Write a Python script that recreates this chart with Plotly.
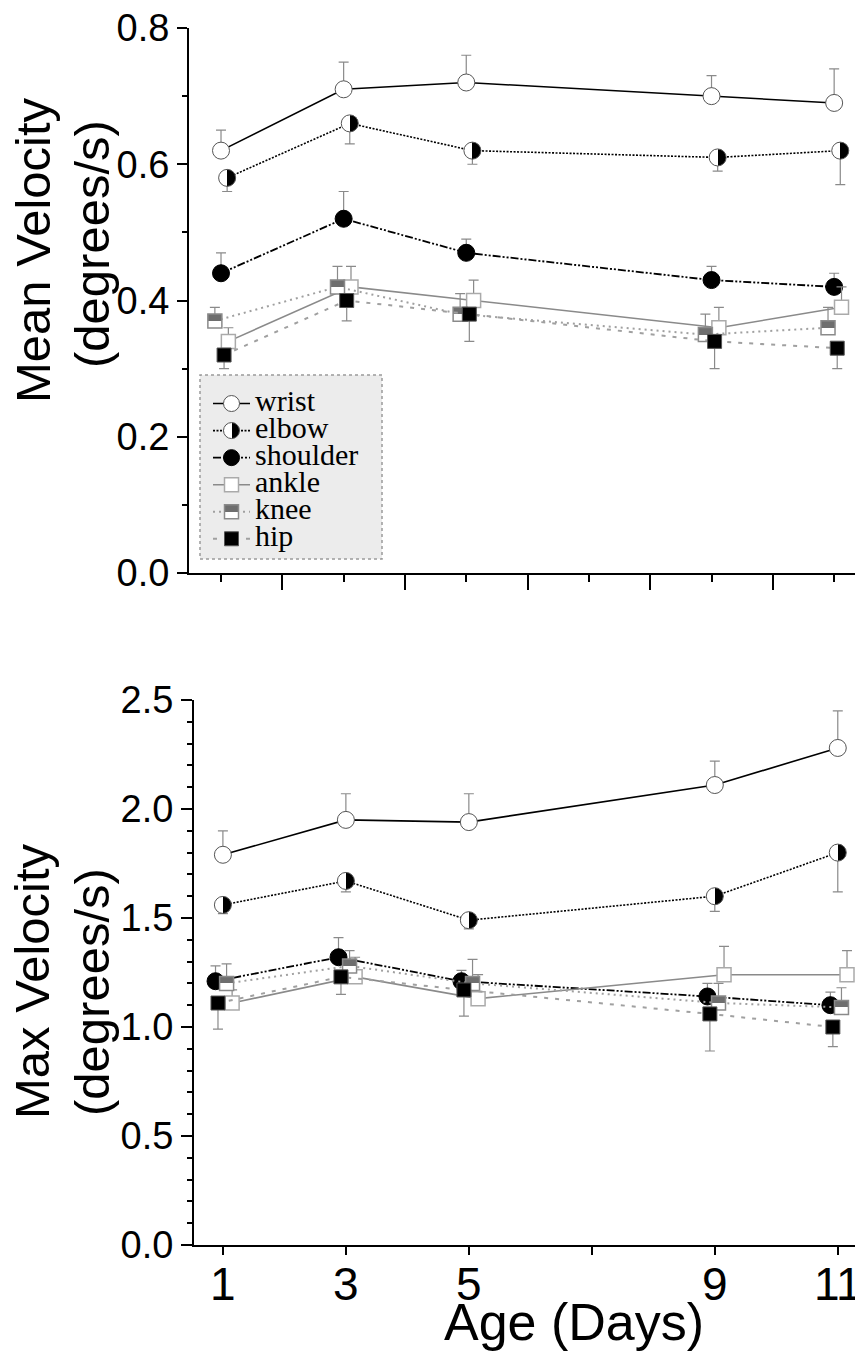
import plotly.graph_objects as go

# ---------------- data ----------------
days = [1, 3, 5, 9, 11]
joints = ["wrist", "elbow", "shoulder", "ankle", "knee", "hip"]

# Mean velocity (degrees/s) - top panel
mean_wrist = [0.62, 0.71, 0.72, 0.70, 0.69]
mean_elbow = [0.58, 0.66, 0.62, 0.61, 0.62]
mean_shoulder = [0.44, 0.52, 0.47, 0.43, 0.42]
mean_ankle = [0.34, 0.42, 0.40, 0.36, 0.39]
mean_knee = [0.37, 0.42, 0.38, 0.35, 0.36]
mean_hip = [0.32, 0.40, 0.38, 0.34, 0.33]

mean_wrist_err = [0.03, 0.04, 0.04, 0.03, 0.05]
mean_elbow_err = [0.02, 0.03, 0.02, 0.02, 0.05]
mean_shoulder_err = [0.03, 0.04, 0.02, 0.02, 0.02]
mean_ankle_err = [0.02, 0.03, 0.03, 0.03, 0.03]
mean_knee_err = [0.02, 0.03, 0.03, 0.03, 0.03]
mean_hip_err = [0.02, 0.03, 0.04, 0.04, 0.03]

# Max velocity (degrees/s) - bottom panel
max_wrist = [1.79, 1.95, 1.94, 2.11, 2.28]
max_elbow = [1.56, 1.67, 1.49, 1.60, 1.80]
max_shoulder = [1.21, 1.32, 1.21, 1.14, 1.10]
max_ankle = [1.11, 1.23, 1.13, 1.24, 1.24]
max_knee = [1.20, 1.28, 1.20, 1.11, 1.09]
max_hip = [1.11, 1.23, 1.17, 1.06, 1.00]

max_wrist_err = [0.11, 0.12, 0.13, 0.11, 0.17]
max_elbow_err = [0.04, 0.05, 0.04, 0.07, 0.18]
max_shoulder_err = [0.07, 0.09, 0.05, 0.06, 0.06]
max_ankle_err = [0.06, 0.09, 0.11, 0.13, 0.11]
max_knee_err = [0.09, 0.07, 0.11, 0.09, 0.09]
max_hip_err = [0.12, 0.08, 0.12, 0.17, 0.09]

x_tick_vals = [1, 3, 5, 7, 9, 11]
x_tick_text = ["1", "3", "5", "", "9", "11"]

mean_data = {
    "wrist": (mean_wrist, mean_wrist_err),
    "elbow": (mean_elbow, mean_elbow_err),
    "shoulder": (mean_shoulder, mean_shoulder_err),
    "ankle": (mean_ankle, mean_ankle_err),
    "knee": (mean_knee, mean_knee_err),
    "hip": (mean_hip, mean_hip_err),
}
max_data = {
    "wrist": (max_wrist, max_wrist_err),
    "elbow": (max_elbow, max_elbow_err),
    "shoulder": (max_shoulder, max_shoulder_err),
    "ankle": (max_ankle, max_ankle_err),
    "knee": (max_knee, max_knee_err),
    "hip": (max_hip, max_hip_err),
}

# ---------------- styles ----------------
W, H = 855, 1355
FONT = "Liberation Sans, Arial, sans-serif"
ERRC = "#8a8a8a"

styles = {
    "wrist": dict(
        line=dict(color="black", width=1.6, dash="solid"),
        marker=dict(symbol="circle", size=17, color="white",
                    line=dict(color="#555555", width=1)),
        up=True, dx_top=0.0, dx_bot=0.0),
    "elbow": dict(
        line=dict(color="black", width=1.6, dash="2px,1.5px"),
        marker=dict(symbol="circle", size=17, color="white",
                    gradient=dict(type="horizontal", color="black"),
                    line=dict(color="#555555", width=1)),
        up=False, dx_top=0.1, dx_bot=0.0),
    "shoulder": dict(
        line=dict(color="black", width=1.8, dash="8px,2px,2px,2px,2px,2px"),
        marker=dict(symbol="circle", size=17, color="black",
                    line=dict(color="black", width=1)),
        up=True, dx_top=0.0, dx_bot=-0.12),
    "ankle": dict(
        line=dict(color="#8a8a8a", width=1.6, dash="solid"),
        marker=dict(symbol="square", size=14, color="white",
                    line=dict(color="#aaaaaa", width=1.5)),
        up=True, dx_top=0.12, dx_bot=0.15),
    "knee": dict(
        line=dict(color="#a0a0a0", width=2, dash="2px,4px"),
        marker=dict(symbol="square", size=14, color="#6e6e6e",
                    gradient=dict(type="vertical", color="white"),
                    line=dict(color="#8a8a8a", width=1.5)),
        up=True, dx_top=-0.1, dx_bot=0.06),
    "hip": dict(
        line=dict(color="#a0a0a0", width=2, dash="4px,7px"),
        marker=dict(symbol="square", size=14, color="black",
                    line=dict(color="#555555", width=1)),
        up=False, dx_top=0.05, dx_bot=-0.08),
}

fig = go.Figure()


def add_series(data, xa, ya, dxkey, showlegend):
    for i, j in enumerate(joints):
        vals, err = data[j]
        st = styles[j]
        zeros = [0] * len(err)
        fig.add_trace(go.Scatter(
            x=[d + st[dxkey] for d in days], y=vals,
            mode="lines+markers",
            name=f'<span style="font-size:30px">{j}</span>',
            legendgroup=j, showlegend=showlegend, legendrank=i + 1,
            line=st["line"], marker=st["marker"],
            error_y=dict(type="data", symmetric=False,
                         array=err if st["up"] else zeros,
                         arrayminus=zeros if st["up"] else err,
                         color=ERRC, thickness=1.2, width=5),
            xaxis=xa, yaxis=ya, cliponaxis=False,
        ))


add_series(mean_data, "x", "y", "dx_top", True)
add_series(max_data, "x2", "y2", "dx_bot", False)


def px_x(p):
    return p / W


def px_y(p):
    return (H - p) / H


axis_common = dict(showgrid=False, zeroline=False, showline=True, automargin=False,
                   linecolor="black", linewidth=2, ticks="outside",
                   tickcolor="black", tickwidth=1.6,
                   tickfont=dict(family=FONT, size=38, color="black"))

fig.update_layout(
    width=W, height=H,
    margin=dict(l=0, r=0, t=0, b=0, autoexpand=False),
    paper_bgcolor="white", plot_bgcolor="rgba(0,0,0,0)",
    font=dict(family=FONT, color="black"),
    xaxis=dict(axis_common, domain=[px_x(189), 1], range=[0.478, 11.34],
               anchor="y", tickmode="linear", tick0=0, dtick=2, ticklen=15,
               showticklabels=False,
               minor=dict(dtick=1, tick0=0, ticklen=7, ticks="outside",
                          tickcolor="black", tickwidth=1.6)),
    yaxis=dict(axis_common, domain=[px_y(573), px_y(28)], range=[0, 0.8],
               anchor="x", tickmode="linear", tick0=0, dtick=0.2,
               tickformat=".1f", ticklen=10,
               minor=dict(dtick=0.1, ticklen=5, ticks="outside",
                          tickcolor="black", tickwidth=1.6)),
    xaxis2=dict(axis_common, domain=[px_x(194), 1], range=[0.53, 11.28],
                anchor="y2", tickmode="array", tickvals=x_tick_vals,
                ticktext=x_tick_text, ticklen=8, ticklabeloverflow="allow",
                ticklabelstandoff=-10,
                tickfont=dict(family=FONT, size=46, color="black")),
    yaxis2=dict(axis_common, domain=[px_y(1245), px_y(700)], range=[0, 2.5],
                anchor="x2", tickmode="linear", tick0=0, dtick=0.5,
                tickformat=".1f", ticklen=11,
                minor=dict(dtick=0.1, ticklen=5, ticks="outside",
                           tickcolor="black", tickwidth=1.6)),
    legend=dict(x=px_x(208), y=px_y(385), xanchor="left", yanchor="top",
                bgcolor="rgba(0,0,0,0)", borderwidth=0,
                font=dict(family="Liberation Serif, Times New Roman, serif",
                          size=18.5, color="black"),
                itemwidth=37, traceorder="normal", tracegroupgap=0),
    showlegend=True,
)

# legend box
fig.add_shape(type="rect", xref="paper", yref="paper",
              x0=px_x(200), x1=px_x(382), y0=px_y(559), y1=px_y(375),
              fillcolor="#ececec", line=dict(color="#9a9a9a", width=1.5, dash="dot"),
              layer="below")

title_font = dict(family=FONT, size=49, color="black")
for txt, xp, yp in [("Mean Velocity", 33, 250), ("(degrees/s)", 92, 244),
                    ("Max Velocity", 32, 981), ("(degrees/s)", 92, 992)]:
    fig.add_annotation(text=txt, x=px_x(xp), y=px_y(yp), xref="paper", yref="paper",
                       xanchor="center", yanchor="middle", textangle=-90,
                       showarrow=False, font=title_font)

fig.add_annotation(text="Age (Days)", x=px_x(574), y=px_y(1322), xref="paper",
                   yref="paper", xanchor="center", yanchor="middle",
                   showarrow=False, font=dict(family=FONT, size=52, color="black"))

post = """
document.body.style.margin = '0';
document.body.style.overflow = 'hidden';
var gd = document.getElementById('{plot_id}');
function sharpen(){
  gd.querySelectorAll('linearGradient stop').forEach(function(s){ s.setAttribute('offset','0.5'); });
}
sharpen();
gd.on('plotly_afterplot', sharpen);
"""

fig.write_html("out.html", post_script=post, config={"displayModeBar": False})
